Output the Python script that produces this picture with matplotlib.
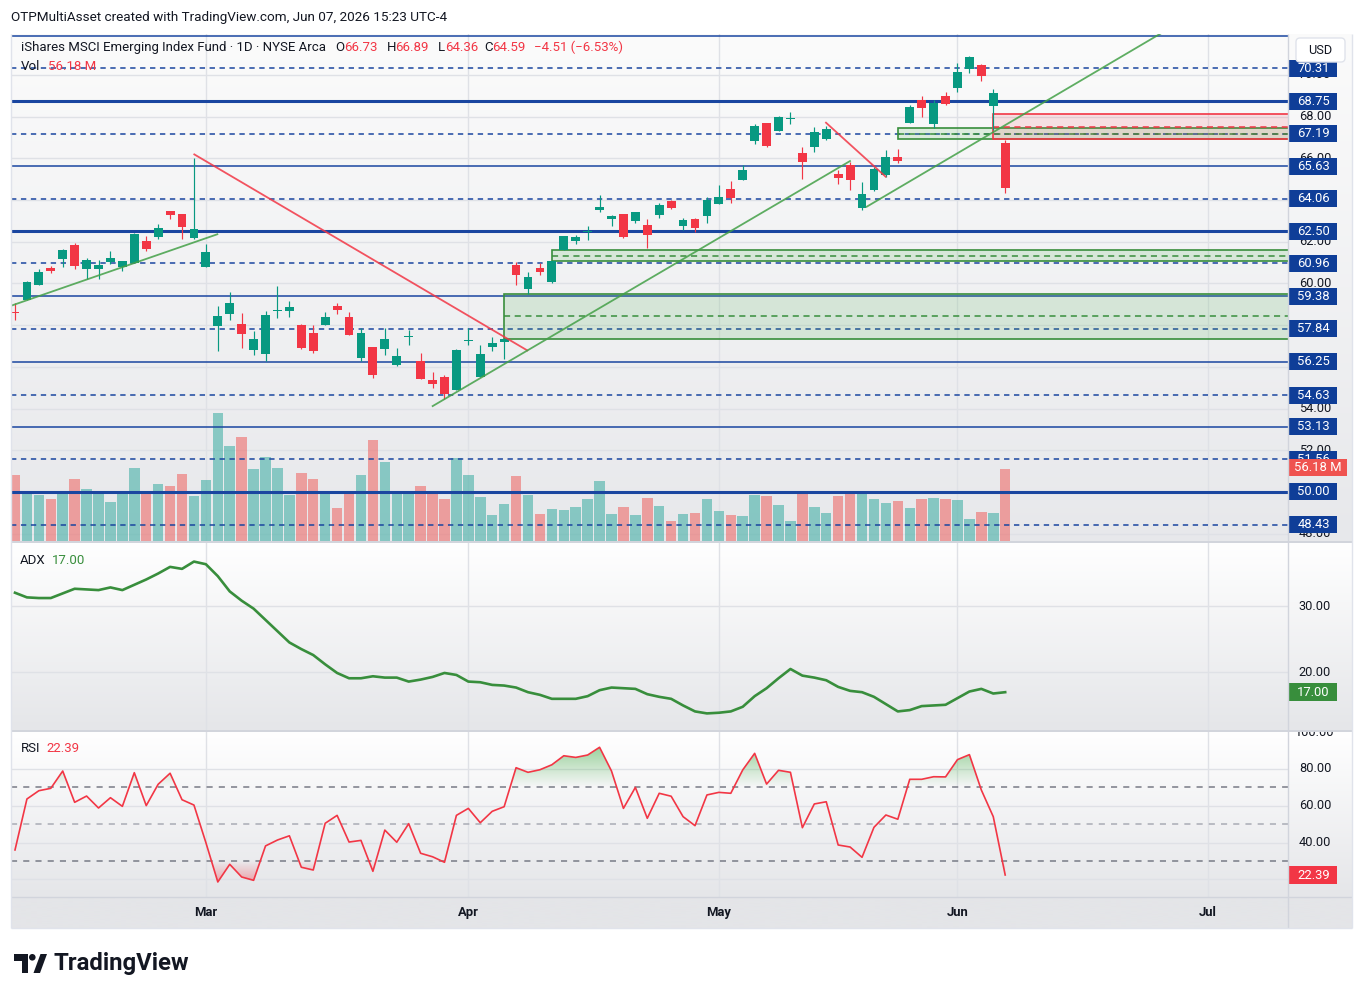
import numpy as np
import matplotlib
matplotlib.use("Agg")
import matplotlib.pyplot as plt
from matplotlib.patches import Rectangle, Polygon, Circle, FancyBboxPatch
from matplotlib.transforms import blended_transform_factory
from matplotlib.path import Path
from matplotlib.colors import LinearSegmentedColormap

plt.rcParams['font.family'] = ['Roboto', 'DejaVu Sans']

# ---------------- data ----------------
opens = [58.60, 59.21, 59.94, 60.76, 61.19, 61.84, 60.71, 60.71, 61.04, 60.79,
         60.97, 62.04, 62.24, 63.48, 63.33, 62.20, 60.80, 57.98, 58.55, 58.06,
         56.82, 56.63, 58.66, 58.69, 58.01, 57.62, 58.02, 58.92, 58.39, 56.44,
         56.95, 56.87, 56.09, 57.41, 56.28, 55.37, 55.51, 54.91, 57.22, 55.53,
         56.94, 57.18, 60.89, 59.75, 60.74, 60.07, 61.60, 62.05, 62.45, 63.54,
         63.11, 63.33, 63.01, 62.80, 63.30, 63.94, 62.76, 63.11, 63.25, 63.83,
         64.53, 64.96, 66.85, 67.70, 67.33, 67.87, 66.26, 66.56, 66.94, 65.25,
         65.67, 63.63, 64.50, 65.22, 66.06, 67.71, 68.79, 67.66, 68.99, 69.37,
         70.29, 70.48, 68.51, 66.73]
highs = [59.06, 60.10, 60.68, 60.84, 61.67, 61.94, 61.24, 61.13, 61.56, 61.08,
         62.40, 62.28, 62.85, 63.48, 63.33, 66.00, 61.88, 58.92, 59.59, 58.58,
         57.72, 58.68, 59.89, 59.16, 58.06, 58.01, 58.63, 59.06, 58.63, 57.85,
         56.95, 57.85, 56.91, 57.77, 56.67, 55.75, 55.60, 56.86, 57.85, 57.03,
         57.43, 57.34, 61.03, 60.54, 60.96, 61.08, 62.28, 62.33, 62.76, 64.24,
         63.30, 63.33, 63.43, 63.09, 63.86, 64.00, 63.14, 63.14, 64.16, 64.72,
         64.91, 65.68, 67.65, 67.70, 68.03, 68.22, 66.54, 67.50, 67.55, 65.44,
         65.83, 64.87, 65.60, 66.40, 66.45, 68.56, 68.99, 68.79, 69.18, 70.57,
         70.91, 70.52, 69.33, 66.89]
lows = [58.25, 59.19, 59.94, 60.49, 60.79, 60.71, 60.20, 60.23, 60.93, 60.60,
        60.97, 61.56, 62.15, 63.11, 62.15, 62.13, 60.80, 56.78, 58.26, 56.92,
        56.57, 56.28, 58.34, 58.39, 56.88, 56.68, 58.00, 58.55, 57.54, 56.28,
        55.48, 56.58, 56.04, 57.06, 55.43, 55.00, 54.47, 54.91, 57.06, 55.53,
        56.78, 56.36, 59.94, 59.50, 60.42, 60.04, 61.60, 61.91, 62.10, 63.44,
        62.77, 62.20, 62.92, 61.72, 63.15, 63.55, 62.56, 62.47, 62.90, 63.83,
        63.87, 64.96, 66.71, 66.56, 67.33, 67.65, 65.02, 66.32, 66.90, 64.78,
        64.47, 63.52, 64.45, 65.10, 65.80, 67.71, 68.00, 67.46, 68.56, 69.18,
        70.10, 69.70, 67.36, 64.36]
closes = [58.57, 60.06, 60.54, 60.61, 61.60, 60.85, 61.13, 60.89, 61.22, 61.08,
          62.37, 61.67, 62.66, 63.30, 62.72, 62.61, 61.51, 58.44, 59.06, 57.59,
          57.32, 58.47, 58.70, 58.87, 56.91, 56.78, 58.39, 58.74, 57.54, 57.62,
          55.61, 57.34, 56.52, 57.45, 55.43, 55.19, 54.70, 56.81, 57.26, 56.60,
          57.13, 57.34, 60.42, 60.31, 60.56, 61.08, 62.28, 62.23, 62.49, 63.67,
          63.25, 62.24, 63.43, 62.34, 63.76, 63.62, 63.04, 62.66, 64.00, 64.13,
          64.11, 65.44, 67.55, 66.61, 67.98, 67.91, 65.84, 67.26, 67.41, 65.07,
          64.98, 64.29, 65.49, 66.06, 65.89, 68.46, 68.43, 68.65, 68.61, 70.14,
          70.86, 69.97, 69.13, 64.59]
volumes = [51.5, 38.9, 35.8, 32.7, 38.9, 48.3, 40.5, 38.9, 30.3, 38.9,
           57.0, 37.4, 44.4, 42.9, 52.3, 35.0, 47.6, 100.1, 74.2, 81.3,
           56.2, 65.6, 57.0, 35.8, 53.0, 48.3, 36.6, 25.6, 37.4, 51.5,
           78.9, 61.7, 37.4, 36.6, 42.9, 38.9, 32.7, 64.8, 51.5, 34.2,
           20.1, 28.7, 50.7, 35.8, 20.9, 24.8, 24.0, 26.4, 32.7, 46.8,
           20.9, 26.4, 20.1, 33.5, 27.2, 15.4, 20.9, 21.7, 32.7, 23.3,
           20.1, 19.4, 35.8, 35.0, 28.0, 15.4, 38.9, 26.4, 21.7, 35.0,
           38.9, 37.4, 32.7, 29.6, 31.1, 25.6, 32.7, 33.5, 32.7, 31.9,
           17.0, 22.5, 21.7, 56.18]
adx = [32.0, 31.3, 31.2, 31.2, 31.9, 32.6, 32.5, 32.4, 32.8, 32.4,
       33.2, 34.0, 34.9, 35.9, 35.6, 36.7, 36.3, 34.5, 32.2, 30.8,
       29.6, 27.9, 26.2, 24.5, 23.5, 22.6, 21.2, 19.9, 19.1, 19.1,
       19.4, 19.2, 19.2, 18.6, 18.9, 19.3, 19.9, 19.6, 18.6, 18.5,
       18.1, 18.0, 17.7, 17.0, 16.6, 16.0, 16.0, 16.0, 16.4, 17.3,
       17.7, 17.6, 17.5, 16.7, 16.3, 16.0, 15.0, 14.1, 13.8, 13.9,
       14.1, 14.8, 16.4, 17.6, 19.1, 20.5, 19.5, 19.2, 18.8, 17.8,
       17.2, 17.0, 16.3, 15.2, 14.1, 14.3, 14.9, 15.0, 15.1, 16.1,
       17.1, 17.5, 16.8, 17.0]
rsi = [36.0, 63.7, 68.2, 69.5, 78.9, 61.9, 65.3, 58.8, 64.4, 59.7,
       78.0, 60.1, 71.7, 77.7, 63.3, 60.4, 40.0, 18.6, 28.2, 21.3,
       19.5, 38.2, 41.4, 43.7, 26.6, 25.1, 50.5, 54.8, 40.3, 41.2,
       24.4, 46.8, 40.2, 50.3, 34.2, 32.3, 29.3, 54.8, 58.6, 50.8,
       57.0, 59.5, 80.7, 78.2, 79.6, 82.3, 87.2, 86.3, 87.6, 91.8,
       78.9, 58.6, 70.0, 53.2, 66.8, 65.2, 54.1, 49.2, 65.9, 67.3,
       66.8, 79.5, 88.5, 71.8, 79.3, 78.2, 48.1, 61.0, 62.2, 38.7,
       37.6, 32.0, 48.3, 55.0, 52.7, 74.4, 74.4, 75.8, 75.7, 85.1,
       87.8, 68.6, 54.1, 22.39]

month_labels = ["Mar", "Apr", "May", "Jun", "Jul"]
month_bars = [16, 38, 59, 79, 100]

solid_levels = [71.88, 68.75, 65.63, 62.50, 59.38, 56.25, 53.13, 50.00]
thick_levels = [68.75, 62.50, 50.00]
dashed_levels = [70.31, 67.19, 64.06, 60.96, 57.84, 54.63, 51.56, 48.43]
level_labels = [70.31, 68.75, 67.19, 65.63, 64.06, 62.50, 60.96, 59.38,
                57.84, 56.25, 54.63, 53.13, 51.56, 50.00, 48.43]
price_ticks = [48, 50, 52, 54, 56, 58, 60, 62, 64, 66, 68, 70]
adx_ticks = [20, 30]
rsi_ticks = [20, 40, 60, 80, 100]

zone_start = [41, 45, 74, 82]
zone_low = [57.35, 61.06, 66.91, 66.91]
zone_high = [59.50, 61.59, 67.44, 68.13]
zone_kind = ["g", "g", "g", "r"]

trend_x0 = [-0.34, 15.03, 35.01, 71.39, 67.98]
trend_y0 = [58.93, 66.19, 54.12, 63.68, 67.71]
trend_x1 = [16.96, 42.94, 69.99, 96.4, 72.98]
trend_y1 = [62.36, 56.79, 65.87, 72.11, 65.12]
trend_kind = ["g", "r", "g", "g", "r"]

last_vol_label = "56.18 M"
last_adx = 17.00
last_rsi = 22.39

# ---------------- styling / layout ----------------
GREEN = '#089981'
RED = '#f23645'
LINE_BLUE = '#1a46a0'
BOX_BLUE = '#0f3e98'
TXT = '#131722'
GRID = '#dfe1e6'
SEP = '#d1d4dc'

W, H = 1364, 997
fig = plt.figure(figsize=(W / 100, H / 100), dpi=100)
fig.patch.set_facecolor('white')


def px_axes(x0, y0, x1, y1, z):
    ax = fig.add_axes([x0 / W, 1 - y1 / H, (x1 - x0) / W, (y1 - y0) / H])
    ax.set_zorder(z)
    ax.patch.set_visible(False)
    ax.axis('off')
    return ax


L, R, SR = 11, 1288, 1352
PT, PB = 34, 541
AT, AB = 542, 730
RT, RB = 731, 897
TB = 928

X0, DX = 15.0, 11.93
XL, XR = (L - X0) / DX, (R - X0) / DX
PPX = 20.853


def p_at(y):
    return 50 + (492 - y) / PPX


P_LO, P_HI = p_at(PB), p_at(PT)
A_LO, A_HI = 20 - (AB - 672.3) / 6.63, 20 + (672.3 - AT) / 6.63
R_LO, R_HI = 80 - (RB - 769) / 1.84, 80 + (769 - RT) / 1.84
idx = np.arange(len(closes))


def gradient(x0, y0, x1, y1, top, bot):
    ax = px_axes(x0, y0, x1, y1, 0)
    cmap = LinearSegmentedColormap.from_list('bg', [top, bot])
    ax.imshow(np.linspace(0, 1, 256).reshape(-1, 1), cmap=cmap, aspect='auto',
              extent=[0, 1, 0, 1], origin='upper', interpolation='bilinear')
    ax.set_xlim(0, 1)
    ax.set_ylim(0, 1)


gradient(L, PT, SR, PB, '#fbfbfb', '#e7e8eb')
gradient(L, AT, SR, AB, '#ffffff', '#e5e6e9')
gradient(L, RT, SR, RB, '#ffffff', '#e5e6e9')
gradient(L, RB, SR, TB, '#e4e5e8', '#e4e5e8')

# ---------------- price pane ----------------
ax_g = px_axes(L, PT, R, PB, 1)
for t in price_ticks:
    ax_g.axhline(t, color=GRID, lw=1)
for b in month_bars:
    ax_g.axvline(b, color=GRID, lw=1)
ax_g.set_xlim(XL, XR)
ax_g.set_ylim(P_LO, P_HI)

VMAX = 56.18 * (PB - PT) / 71.7
ax_v = px_axes(L, PT, R, PB, 2)
vcolors = ['#26a69a' if c >= o else '#ef5350' for o, c in zip(opens, closes)]
ax_v.bar(idx, volumes, width=0.88, color=vcolors, alpha=0.5, linewidth=0)
ax_v.set_xlim(XL, XR)
ax_v.set_ylim(0, VMAX)

ax_p = px_axes(L, PT, R, PB, 3)
for lv in solid_levels:
    ax_p.axhline(lv, color=LINE_BLUE, lw=2.2 if lv in thick_levels else 1.1, zorder=2)
for lv in dashed_levels:
    ax_p.axhline(lv, color=LINE_BLUE, lw=1.1, dashes=(3.5, 3), zorder=2)

for s, lo, hi, k in zip(zone_start, zone_low, zone_high, zone_kind):
    col = '#388e3c' if k == 'g' else RED
    fillc = '#4caf50' if k == 'g' else RED
    ax_p.add_patch(Rectangle((s, lo), XR + 2 - s, hi - lo, facecolor=fillc,
                             alpha=0.16 if k == 'g' else 0.12, edgecolor='none', zorder=3))
    ax_p.add_patch(Rectangle((s, lo), XR + 2 - s, hi - lo, facecolor='none',
                             edgecolor=col, lw=1.2, zorder=3))
    ax_p.plot([s, XR + 2], [(lo + hi) / 2] * 2, color=col, lw=1.1, dashes=(4, 3), zorder=3)

for i, (o, h, l, c) in enumerate(zip(opens, highs, lows, closes)):
    col = GREEN if c >= o else RED
    ax_p.plot([i, i], [l, h], color=col, lw=0.85, zorder=5, solid_capstyle='butt')
    bot = min(o, c)
    ht = max(abs(c - o), 0.05)
    ax_p.add_patch(Rectangle((i - 0.37, bot), 0.74, ht, facecolor=col, edgecolor='none', zorder=5))

for x0, y0, x1, y1, k in zip(trend_x0, trend_y0, trend_x1, trend_y1, trend_kind):
    col = '#43a047' if k == 'g' else RED
    ax_p.plot([x0, x1], [y0, y1], color=col, lw=1.3, alpha=0.85, zorder=6)
ax_p.set_xlim(XL, XR)
ax_p.set_ylim(P_LO, P_HI)

# price scale
ax_ps = px_axes(R, PT, SR, PB, 4)
ax_ps.set_xlim(0, SR - R)
ax_ps.set_ylim(P_LO, P_HI)
for t in price_ticks:
    # tick labels that sit completely under a level box are hidden (as on the reference)
    if min(abs(t - lv) for lv in level_labels) < 0.2:
        continue
    ax_ps.text(27, t, f'{t:.2f}', ha='center', va='center', fontsize=9.2, color=TXT,
               clip_on=True, zorder=1)
bh = 17 / PPX
for k, lv in enumerate(level_labels):
    ax_ps.add_patch(Rectangle((1, lv - bh / 2), 48, bh, facecolor=BOX_BLUE,
                              edgecolor='none', zorder=2 + 2 * k))
    ax_ps.text(25.5, lv, f'{lv:.2f}', ha='center', va='center', fontsize=9.4,
               color='white', zorder=3 + 2 * k, clip_on=True)
tr_v = blended_transform_factory(ax_ps.transData, ax_v.transData)
vpx = VMAX / (PB - PT)
vc = volumes[-1] + 2 * vpx
vh = 17 * vpx
ax_ps.add_patch(Rectangle((1, vc - vh / 2), 57.5, vh, facecolor='#ef5350',
                          edgecolor='none', zorder=100, transform=tr_v))
ax_ps.text(29.5, vc, last_vol_label, ha='center', va='center', fontsize=9.4,
           color='white', zorder=101, transform=tr_v)

# ---------------- ADX pane ----------------
ax_a = px_axes(L, AT, R, AB, 3)
for t in adx_ticks:
    ax_a.axhline(t, color=GRID, lw=1, zorder=0)
for b in month_bars:
    ax_a.axvline(b, color=GRID, lw=1, zorder=0)
ax_a.plot(idx, adx, color='#388e3c', lw=1.9, zorder=3, solid_joinstyle='round')
ax_a.set_xlim(XL, XR)
ax_a.set_ylim(A_LO, A_HI)

ax_as = px_axes(R, AT, SR, AB, 4)
ax_as.set_xlim(0, SR - R)
ax_as.set_ylim(A_LO, A_HI)
for t in adx_ticks:
    ax_as.text(27, t, f'{t:.2f}', ha='center', va='center', fontsize=9.2, color=TXT, clip_on=True)
ah = 18 / 6.63
ax_as.add_patch(Rectangle((1, last_adx - ah / 2), 48, ah, facecolor='#388e3c', edgecolor='none', zorder=3))
ax_as.text(25.5, last_adx, f'{last_adx:.2f}', ha='center', va='center', fontsize=9.4,
           color='white', zorder=4)

# ---------------- RSI pane ----------------
ax_r = px_axes(L, RT, R, RB, 3)
for t in [20, 40, 60, 80]:
    ax_r.axhline(t, color=GRID, lw=1, zorder=0)
for b in month_bars:
    ax_r.axvline(b, color=GRID, lw=1, zorder=0)
ax_r.axhline(70, color='#787b86', lw=1.1, dashes=(4, 4), zorder=1)
ax_r.axhline(30, color='#787b86', lw=1.1, dashes=(4, 4), zorder=1)
ax_r.axhline(50, color='#a9acb5', lw=1.1, dashes=(4, 4), zorder=1)

rs = np.array(rsi)
grad = np.linspace(0, 1, 256).reshape(-1, 1)
poly_g = ax_r.fill_between(idx, rs, 70, where=rs >= 70, interpolate=True,
                           facecolor='none', edgecolor='none')
paths = poly_g.get_paths()
if paths:
    cmap_g = LinearSegmentedColormap.from_list(
        'gf', [(0.30, 0.69, 0.31, 0.0), (0.30, 0.69, 0.31, 0.62)])
    im = ax_r.imshow(grad, extent=[XL, XR, 70, 94], origin='lower', aspect='auto',
                     cmap=cmap_g, zorder=2)
    im.set_clip_path(Path.make_compound_path(*paths), transform=ax_r.transData)
poly_r = ax_r.fill_between(idx, rs, 30, where=rs <= 30, interpolate=True,
                           facecolor='none', edgecolor='none')
paths = poly_r.get_paths()
if paths:
    cmap_r = LinearSegmentedColormap.from_list(
        'rf', [(0.95, 0.21, 0.27, 0.45), (0.95, 0.21, 0.27, 0.0)])
    im = ax_r.imshow(grad, extent=[XL, XR, 17, 30], origin='lower', aspect='auto',
                     cmap=cmap_r, zorder=2)
    im.set_clip_path(Path.make_compound_path(*paths), transform=ax_r.transData)
ax_r.plot(idx, rsi, color=RED, lw=1.2, zorder=3)
ax_r.set_xlim(XL, XR)
ax_r.set_ylim(R_LO, R_HI)

ax_rs = px_axes(R, RT, SR, RB, 4)
ax_rs.set_xlim(0, SR - R)
ax_rs.set_ylim(R_LO, R_HI)
for t in rsi_ticks:
    if abs(t - last_rsi) < 4:
        continue  # hidden under the value box, as on the reference
    ax_rs.text(27, t, f'{t:.2f}', ha='center', va='center', fontsize=9.2, color=TXT, clip_on=True)
rh = 18 / 1.84
ax_rs.add_patch(Rectangle((1, last_rsi - rh / 2), 48, rh, facecolor=RED, edgecolor='none', zorder=3))
ax_rs.text(25.5, last_rsi, f'{last_rsi:.2f}', ha='center', va='center', fontsize=9.4,
           color='white', zorder=4)

# ---------------- time axis ----------------
ax_t = px_axes(L, RB, R, TB, 4)
ax_t.set_xlim(XL, XR)
ax_t.set_ylim(0, 1)
for lab, b in zip(month_labels, month_bars):
    ax_t.text(b, 0.5, lab, ha='center', va='center', fontsize=9.4, fontweight='bold', color=TXT)

# ---------------- overlay (pixel coords) ----------------
ov = px_axes(0, 0, W, H, 6)
ov.set_xlim(0, W)
ov.set_ylim(H, 0)
for (xa, ya, xb, yb, c, lw) in [
        (L, 541.5, SR, 541.5, SEP, 1.4), (L, 730.5, SR, 730.5, SEP, 1.4),
        (L, RB, SR, RB, SEP, 1.0), (R, PT, R, TB, SEP, 1.0),
        (L, PT, L, TB, '#e0e3eb', 1.0), (SR, PT, SR, TB, '#e0e3eb', 1.0),
        (L, TB, SR, TB, '#e0e3eb', 1.0)]:
    ov.plot([xa, xb], [ya, yb], color=c, lw=lw, solid_capstyle='butt')

rend = fig.canvas.get_renderer()


def fit(t, width):
    w = t.get_window_extent(rend).width
    t.set_fontsize(t.get_fontsize() * width / w)
    return t.get_fontsize()


t = ov.text(11, 17, 'OTPMultiAsset created with TradingView.com, Jun 07, 2026 15:23 UTC-4',
            fontsize=9.5, color=TXT, va='center', ha='left')
fit(t, 437)

t = ov.text(21, 47.5, 'iShares MSCI Emerging Index Fund · 1D · NYSE Arca',
            fontsize=9.3, color=TXT, va='center', ha='left')
fs = fit(t, 305)
for s, x, c in [('O', 335.7, TXT), ('66.73', 343.8, RED), ('H', 386.6, TXT), ('66.89', 395, RED),
                ('L', 437.5, TXT), ('64.36', 445, RED), ('C', 484, TXT), ('64.59', 492.4, RED),
                ('\u22124.51 (\u22126.53%)', 533.5, RED)]:
    ov.text(x, 47.5, s, fontsize=fs, color=c, va='center', ha='left')
ov.text(21, 66.7, 'Vol', fontsize=fs, color=TXT, va='center', ha='left')
ov.text(47.8, 66.7, last_vol_label, fontsize=fs, color=RED, va='center', ha='left')

ov.text(19.5, 560.7, 'ADX', fontsize=fs, color=TXT, va='center', ha='left')
ov.text(52, 560.7, f'{last_adx:.2f}', fontsize=fs, color='#388e3c', va='center', ha='left')
ov.text(20.7, 748.3, 'RSI', fontsize=fs, color=TXT, va='center', ha='left')
ov.text(46.7, 748.3, f'{last_rsi:.2f}', fontsize=fs, color=RED, va='center', ha='left')

# USD box
ov.add_patch(FancyBboxPatch((1296, 38), 49, 24, boxstyle='round,pad=0,rounding_size=4',
                            facecolor='white', edgecolor='#e0e3eb', lw=1.0, zorder=10))
ov.text(1320.5, 50, 'USD', fontsize=9.2, color=TXT, ha='center', va='center', zorder=11)

# TradingView logo
LOGO = '#131722'
ov.add_patch(Polygon([(14, 954), (28, 954), (28, 973), (21.5, 973), (21.5, 960.5), (14, 960.5)],
                     closed=True, facecolor=LOGO, edgecolor='none'))
ov.add_patch(Circle((32.3, 957.3), 3.3, facecolor=LOGO, edgecolor='none'))
ov.add_patch(Polygon([(33.5, 973), (40.5, 954), (47, 954), (40, 973)], closed=True,
                     facecolor=LOGO, edgecolor='none'))
t = ov.text(54, 963.5, 'TradingView', fontsize=16, fontweight='bold', color=LOGO,
            va='center', ha='left')
fit(t, 136)

fig.savefig('out.png', dpi=100, facecolor='white')
